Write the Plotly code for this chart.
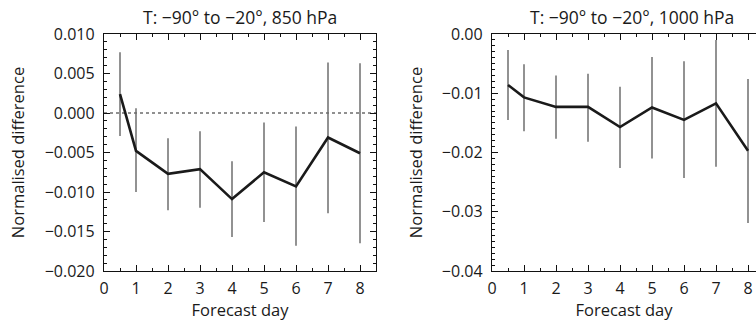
import plotly.graph_objects as go

# ---- data ----
days = [0.5, 1, 2, 3, 4, 5, 6, 7, 8]

# Left panel: T, -90 to -20, 850 hPa
l850_mean = [0.0024, -0.0048, -0.0077, -0.0071, -0.0109, -0.0075, -0.0093, -0.0031, -0.0051]
l850_hi = [0.0077, 0.0006, -0.0032, -0.0023, -0.0061, -0.0012, -0.0017, 0.0064, 0.0063]
l850_lo = [-0.0029, -0.0100, -0.0123, -0.0120, -0.0157, -0.0138, -0.0168, -0.0127, -0.0165]

# Right panel: T, -90 to -20, 1000 hPa
r1000_mean = [-0.0086, -0.0107, -0.0123, -0.0123, -0.0157, -0.0124, -0.0145, -0.0117, -0.0197]
r1000_hi = [-0.0027, -0.0051, -0.0070, -0.0067, -0.0089, -0.0039, -0.0046, -0.0010, -0.0076]
r1000_lo = [-0.0145, -0.0164, -0.0177, -0.0182, -0.0226, -0.0210, -0.0243, -0.0224, -0.0319]

titles = ["T: \u221290\u00b0 to \u221220\u00b0, 850 hPa", "T: \u221290\u00b0 to \u221220\u00b0, 1000 hPa"]
x_title = "Forecast day"
y_title = "Normalised difference"

FONT = "Open Sans"
TXT = "#1a1a1a"
W, H = 756, 321

fig = go.Figure()


def add_panel(mean, hi, lo, xa, ya):
    up = [h - m for h, m in zip(hi, mean)]
    dn = [m - l for m, l in zip(mean, lo)]
    fig.add_trace(go.Scatter(
        x=days, y=mean, xaxis=xa, yaxis=ya, mode="lines",
        line=dict(color="#1a1a1a", width=2.6),
        error_y=dict(type="data", symmetric=False, array=up, arrayminus=dn,
                     color="#6e6e6e", thickness=1.5, width=0),
        showlegend=False, hoverinfo="skip"))


add_panel(l850_mean, l850_hi, l850_lo, "x", "y")
add_panel(r1000_mean, r1000_hi, r1000_lo, "x2", "y2")

# dotted zero line on left panel
fig.add_shape(type="line", xref="x domain", yref="y", x0=0, x1=1, y0=0, y1=0,
              line=dict(color="#222", width=1.2, dash="dot"), layer="below")

ydom = [1 - 271 / H, 1 - 34 / H]
ax_common = dict(showgrid=False, zeroline=False, showline=True, linecolor="#111",
                 linewidth=1.3, ticks="inside", tickcolor="#111", ticklen=6,
                 tickwidth=1, automargin=False,
                 tickfont=dict(family=FONT, size=16, color=TXT))

xaxis_base = dict(ax_common, tickmode="linear", tick0=0, dtick=1,
                  minor=dict(ticks="inside", dtick=0.5, ticklen=3, tickcolor="#111"),
                  ticklabelstandoff=3,
                  title=dict(text=x_title, font=dict(family=FONT, size=16.5, color=TXT),
                             standoff=0))

ytitle = dict(text=y_title, font=dict(family=FONT, size=16.5, color=TXT), standoff=15)

fig.update_layout(
    width=W, height=H,
    margin=dict(l=0, r=0, t=0, b=0),
    paper_bgcolor="white", plot_bgcolor="white",
    xaxis=dict(xaxis_base, domain=[104 / W, 376 / W], range=[0, 8.5], mirror="ticks", anchor="y"),
    yaxis=dict(ax_common, domain=ydom, range=[-0.020, 0.010], dtick=0.005, tickformat=".3f",
               minor=dict(ticks="inside", dtick=0.001, ticklen=3, tickcolor="#111"),
               mirror="ticks", anchor="x", ticklabelstandoff=5, title=ytitle),
    xaxis2=dict(xaxis_base, domain=[492 / W, 1.0], range=[0, 8.25], mirror="ticks", anchor="y2"),
    yaxis2=dict(ax_common, domain=ydom, range=[-0.04, 0.0], dtick=0.01, tickformat=".2f",
                minor=dict(ticks="inside", dtick=0.001, ticklen=3, tickcolor="#111"),
                mirror=False, anchor="x2", ticklabelstandoff=5, title=ytitle),
    annotations=[
        dict(text=titles[0], x=240 / W, y=1 - 17 / H, xref="paper", yref="paper",
             xanchor="center", yanchor="middle", showarrow=False,
             font=dict(family=FONT, size=17.5, color=TXT)),
        dict(text=titles[1], x=632 / W, y=1 - 17 / H, xref="paper", yref="paper",
             xanchor="center", yanchor="middle", showarrow=False,
             font=dict(family=FONT, size=17.5, color=TXT)),
    ],
)

fig.write_html("out.html", config={"displayModeBar": False},
               post_script="document.body.style.margin='0';")
